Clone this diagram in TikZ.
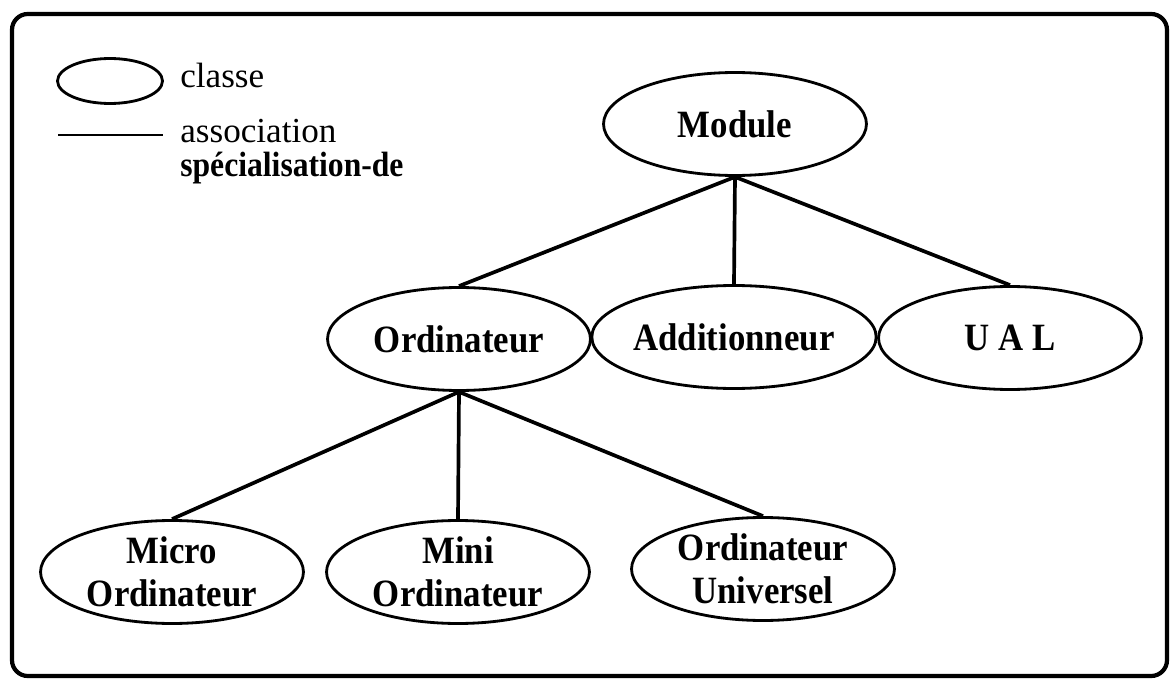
\documentclass[tikz,border=0pt]{standalone}
\usepackage{fontspec}
\setmainfont{Liberation Serif}[BoldFeatures={FakeStretch=0.9}]
\usetikzlibrary{shapes.geometric}
\begin{document}
\begin{tikzpicture}[x=0.02cm,y=-0.02cm,
  classe/.style={ellipse, draw, line width=1.6pt, minimum width=5.26cm,
    minimum height=2.06cm, inner sep=0pt, align=center,
    font=\bfseries\fontsize{22}{24.2}\selectfont},
  assoc/.style={line width=2.1pt},
  legendtext/.style={anchor=base west, inner sep=0pt,
    font=\fontsize{20}{24}\selectfont}]
\useasboundingbox (0,0) rectangle (1171,679);
% frame
\draw[line width=2.4pt, rounded corners=9pt] (12,14) rectangle (1167,676);

% legend
\node[ellipse, draw, line width=1.6pt, minimum width=2.1cm, minimum height=0.9cm,
  inner sep=0pt] (legclasse) at (110,81) {};
\node[legendtext] (legclassetext) at (180,88) {classe};
\coordinate (legla) at (58,135);
\coordinate (leglb) at (163,135);
\draw[line width=1.6pt] (legla) -- (leglb);
\node[legendtext] (legassoc) at (180,143) {association};
\node[legendtext, font=\bfseries\fontsize{20}{24}\selectfont] (legspec) at (180,177) {spécialisation-de};

% classes
\node[classe] (module) at (735,124) {Module};
\node[classe] (ordinateur) at (459,339) {Ordinateur};
\node[classe] (additionneur) at (734,337) {Additionneur};
\node[classe] (ual) at (1010,338) {U A L};
\node[classe] (micro) at (172,572) {Micro\\Ordinateur};
\node[classe] (mini) at (458,572) {Mini\\Ordinateur};
\node[classe] (universel) at (763,569) {Ordinateur\\Universel};

% specialisation links
\draw[assoc] (module.south) -- (ordinateur.north);
\draw[assoc] (module.south) -- (additionneur.north);
\draw[assoc] (module.south) -- (ual.north);
\draw[assoc] (ordinateur.south) -- (micro.north);
\draw[assoc] (ordinateur.south) -- (mini.north);
\draw[assoc] (ordinateur.south) -- (universel.north);
\end{tikzpicture}
\end{document}
